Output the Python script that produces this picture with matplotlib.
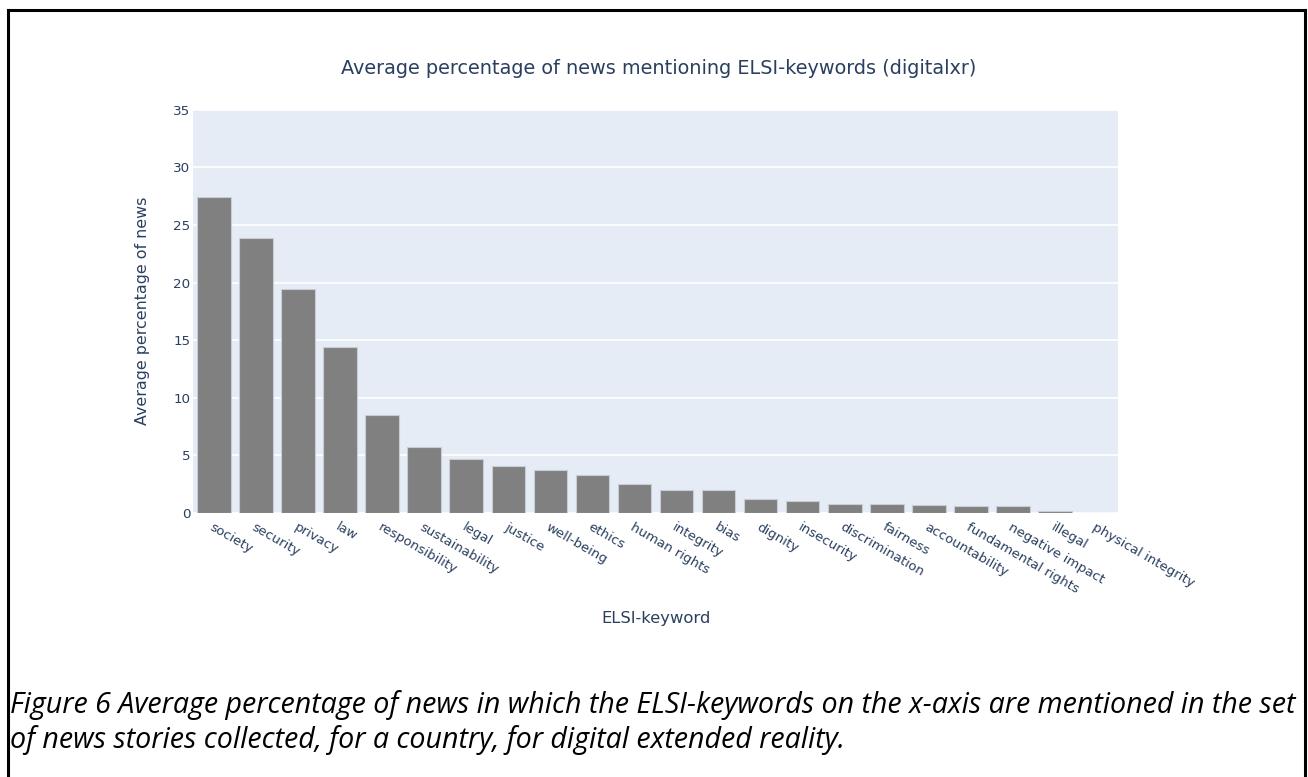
import matplotlib
matplotlib.use("Agg")
import matplotlib.pyplot as plt
from matplotlib.lines import Line2D

keywords = ["society", "security", "privacy", "law", "responsibility", "sustainability",
            "legal", "justice", "well-being", "ethics", "human rights", "integrity", "bias",
            "dignity", "insecurity", "discrimination", "fairness", "accountability",
            "fundamental rights", "negative impact", "illegal", "physical integrity"]
values = [27.46, 23.84, 19.43, 14.42, 8.5, 5.7, 4.65, 4.07, 3.7, 3.29, 2.45, 1.96, 1.96,
          1.15, 0.97, 0.77, 0.71, 0.68, 0.59, 0.59, 0.1, 0.0]
yticks = [0, 5, 10, 15, 20, 25, 30, 35]

TXT = "#2a3f5f"
FONT = "DejaVu Sans"
W, H = 1308, 777
fig = plt.figure(figsize=(W / 100, H / 100), dpi=100)
ax = fig.add_axes([193 / W, 1 - 512.5 / H, (1118 - 193) / W, (512.5 - 110) / H])
ax.set_facecolor("#E5ECF6")
x = list(range(len(keywords)))
ax.bar(x, values, width=0.8, color="#808080", edgecolor="#C8CDD4", linewidth=0.8, zorder=3)
ax.set_xlim(-0.5, len(keywords) - 0.5)
ax.set_ylim(0, 35)
ax.set_yticks(yticks)
ax.set_yticklabels([str(t) for t in yticks], fontsize=9.7, color=TXT, family=FONT)
ax.grid(axis="y", color="white", linewidth=1.2, zorder=0)
ax.set_axisbelow(True)
for s in ax.spines.values():
    s.set_visible(False)
ax.tick_params(axis="y", length=0, pad=2)
ax.set_xticks(x)
ax.set_xticklabels(keywords, rotation=-30, ha="left", va="top", rotation_mode="anchor",
                   fontsize=9.5, color=TXT, family=FONT)
ax.tick_params(axis="x", length=0, pad=6)

fig.text(659 / W, 1 - 68 / H, "Average percentage of news mentioning ELSI-keywords (digitalxr)",
         ha="center", va="center", fontsize=13.9, color=TXT, family=FONT)
fig.text(142 / W, 1 - 311 / H, "Average percentage of news", rotation=90,
         ha="center", va="center", fontsize=11.4, color=TXT, family=FONT)
fig.text(656 / W, 1 - 618 / H, "ELSI-keyword",
         ha="center", va="center", fontsize=11.8, color=TXT, family=FONT)

fig.text(10 / W, 1 - 705 / H,
         "Figure 6 Average percentage of news in which the ELSI-keywords on the x-axis are mentioned in the set",
         ha="left", va="center", fontsize=20.6, style="italic", color="black", family="Open Sans")
fig.text(10 / W, 1 - 740 / H,
         "of news stories collected, for a country, for digital extended reality.",
         ha="left", va="center", fontsize=20.6, style="italic", color="black", family="Open Sans")

lw = 2.2
fig.add_artist(Line2D([8 / W, 8 / W], [0, 1 - 10 / H], transform=fig.transFigure, color="black", linewidth=lw))
fig.add_artist(Line2D([8 / W, 1305 / W], [1 - 10 / H, 1 - 10 / H], transform=fig.transFigure, color="black", linewidth=lw))
fig.add_artist(Line2D([1305 / W, 1305 / W], [0, 1 - 10 / H], transform=fig.transFigure, color="black", linewidth=lw))

fig.savefig("out.png", dpi=100, facecolor="white")
